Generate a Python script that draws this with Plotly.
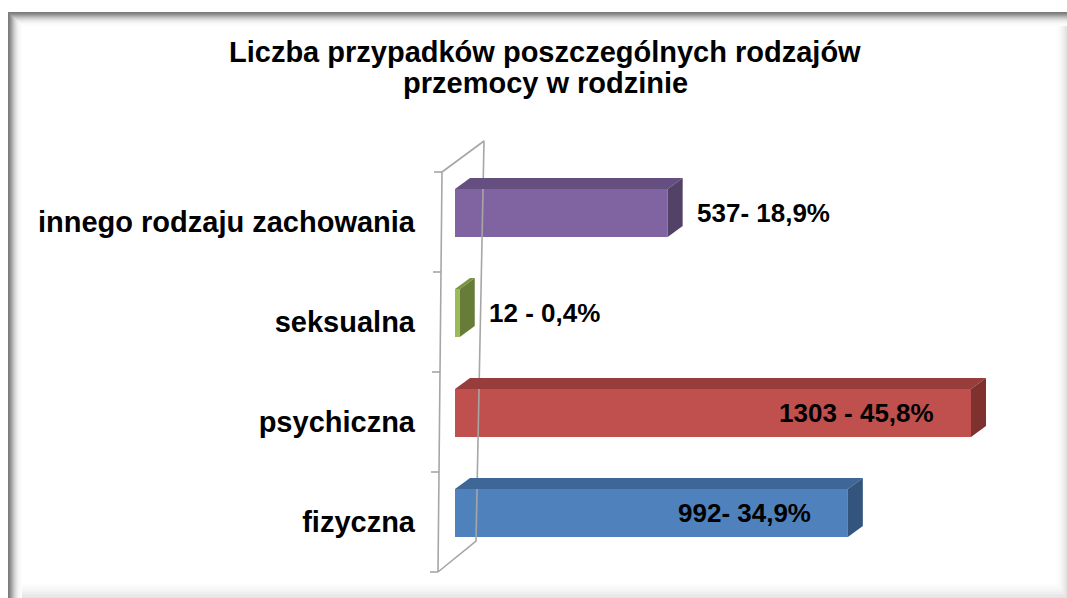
import plotly.graph_objects as go

# ---------------- data ----------------
categories = ["fizyczna", "psychiczna", "seksualna", "innego rodzaju zachowania"]
values = [992, 1303, 12, 537]
value_labels = ["992- 34,9%", "1303 - 45,8%", "12 - 0,4%", "537- 18,9%"]
title_lines = ["Liczba przypadków poszczególnych rodzajów", "przemocy w rodzinie"]

# ---------------- style ----------------
front_colors = ["#4F81BD", "#C0504D", "#9BBB59", "#8064A2"]
top_colors = ["#3E6696", "#973D3B", "#7A9346", "#654F81"]
side_colors = ["#33547D", "#7E312F", "#677C38", "#524268"]
label_side = ["inside", "inside", "outside", "outside"]
FONT = "Liberation Sans, Arial, sans-serif"

W, H = 1067, 598
L, R, T, B = 428, 1010, 130, 585          # plot area in pixels
X0PX = 455                                # pixel of value 0
UNIT_PX = 516 / 1303                      # pixels per unit of value
Y0PX = 522                                # pixel of first category centre
BAND_PX = 100                             # pixels per category band


def xd(px):
    return (px - X0PX) / UNIT_PX


def yd(py):
    return (Y0PX - py) / BAND_PX


def xp(px):
    return (px - L) / (R - L)


def yp(py):
    return (B - py) / (B - T)


BAR_OFFSET = -0.15
BAR_WIDTH = 0.48
DEPTH_X = 15 / UNIT_PX
DEPTH_Y = 0.11

fig = go.Figure()

# ---- 3D wall outline (floor/back wall edges) ----
n = len(categories)
lo, hi = -0.5, n - 0.5
wall_dy = 0.31
f_top, f_bot = xd(442), xd(438)
b_top, b_bot = xd(484), xd(476)
wx = [f_bot, f_top, b_top, b_bot, f_bot]
wy = [lo, hi, hi + wall_dy, lo + wall_dy, lo]
fig.add_trace(go.Scatter(x=wx, y=wy, mode="lines",
                         line=dict(color="#A6A6A6", width=1.6),
                         hoverinfo="skip", showlegend=False))
# tick marks at category boundaries
tx, ty = [], []
for j in range(n + 1):
    yy = lo + j
    fx = f_bot + (f_top - f_bot) * (yy - lo) / (hi - lo)
    tx += [fx - 8 / UNIT_PX, fx, None]
    ty += [yy, yy, None]
fig.add_trace(go.Scatter(x=tx, y=ty, mode="lines",
                         line=dict(color="#A6A6A6", width=1.6),
                         hoverinfo="skip", showlegend=False))

# ---- front faces of bars ----
ypos = list(range(n))
fig.add_trace(go.Bar(y=ypos, x=values, orientation="h",
                     width=BAR_WIDTH, offset=BAR_OFFSET,
                     marker=dict(color=front_colors, line=dict(width=0)),
                     hoverinfo="skip", showlegend=False))

# ---- top and side faces ----
for i, v in enumerate(values):
    y_bot = i + BAR_OFFSET
    y_top = y_bot + BAR_WIDTH
    fig.add_trace(go.Scatter(
        x=[0, v, v + DEPTH_X, DEPTH_X, 0],
        y=[y_top, y_top, y_top + DEPTH_Y, y_top + DEPTH_Y, y_top],
        fill="toself", fillcolor=top_colors[i], mode="lines",
        line=dict(width=0, color=top_colors[i]),
        hoverinfo="skip", showlegend=False))
    fig.add_trace(go.Scatter(
        x=[v, v, v + DEPTH_X, v + DEPTH_X, v],
        y=[y_bot, y_top, y_top + DEPTH_Y, y_bot + DEPTH_Y, y_bot],
        fill="toself", fillcolor=side_colors[i], mode="lines",
        line=dict(width=0, color=side_colors[i]),
        hoverinfo="skip", showlegend=False))

# ---- data labels ----
for i, v in enumerate(values):
    inside = label_side[i] == "inside"
    fig.add_annotation(x=v, y=i + BAR_OFFSET + BAR_WIDTH / 2,
                       text=value_labels[i], showarrow=False,
                       xanchor="right" if inside else "left",
                       xshift=-35 if inside else 27,
                       font=dict(family=FONT, size=26, color="#000000",
                                 weight="bold"))

# ---- title (two lines) ----
for j, line in enumerate(title_lines):
    fig.add_annotation(x=xp(545), y=yp(52 + 31 * j), xref="paper", yref="paper",
                       text=line, showarrow=False, xanchor="center",
                       yanchor="middle",
                       font=dict(family=FONT, size=29, color="#000000",
                                 weight="bold"))

# ---- frame with soft inner shadow ----
shapes = []
dark = [0x7C, 0x84, 0x92, 0xA2, 0xB2, 0xC2, 0xD0, 0xDC, 0xE6, 0xEE, 0xF4, 0xF8, 0xFB, 0xFD]
light = [0xE2, 0xE6, 0xEA, 0xEE, 0xF2, 0xF5, 0xF8, 0xFA, 0xFC, 0xFE]
FL, FT, FR, FB = 8, 12, 1067, 598


def rect(x0, y0, x1, y1, c):
    col = "#%02x%02x%02x" % (c, c, c)
    shapes.append(dict(type="rect", xref="paper", yref="paper",
                       x0=xp(x0), x1=xp(x1), y0=yp(y1), y1=yp(y0),
                       fillcolor=col, line=dict(width=0), layer="below"))


for k, c in reversed(list(enumerate(light))):
    rect(FR - k - 1, FT, FR - k, FB, c)
    rect(FL, FB - 1.5 * (k + 1), FR, FB - 1.5 * k, c)
for k, c in reversed(list(enumerate(dark))):
    rect(FL + k, FT, FL + k + 1, FB, c)
    rect(FL, FT + k, FR, FT + k + 1, c)

fig.update_layout(
    width=W, height=H, autosize=False,
    margin=dict(l=L, r=W - R, t=T, b=H - B, pad=0),
    paper_bgcolor="#FFFFFF", plot_bgcolor="rgba(0,0,0,0)",
    xaxis=dict(range=[xd(L), xd(R)], visible=False, fixedrange=True),
    yaxis=dict(range=[yd(B), yd(T)], tickvals=ypos, ticktext=categories,
               ticks="", showline=False, showgrid=False, zeroline=False,
               ticklabelstandoff=12,
               tickfont=dict(family=FONT, size=29, color="#000000", weight="bold"),
               fixedrange=True),
    shapes=shapes,
    showlegend=False,
)

fig.write_html("out.html", config={"displayModeBar": False},
               post_script="document.body.style.margin='0';document.body.style.overflow='hidden';")
